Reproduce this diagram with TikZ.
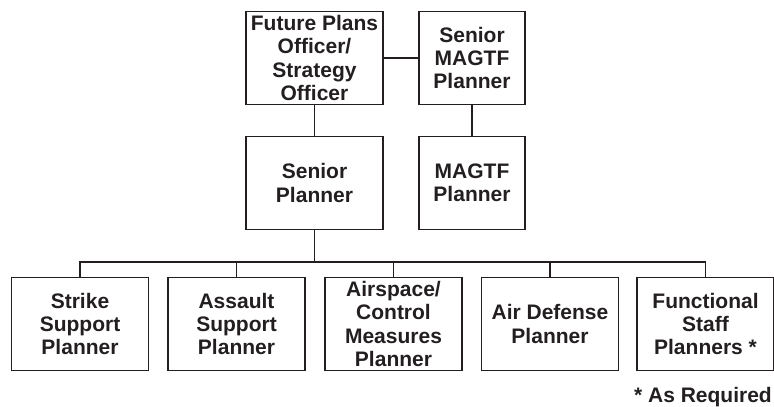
\documentclass[tikz,border=0pt]{standalone}
\usepackage{fontspec}
\setmainfont{Liberation Sans}
\begin{document}
\begin{tikzpicture}[x=1pt,y=-1pt,
  every node/.style={font=\fontsize{21}{23.2}\selectfont\bfseries, text=ink, inner sep=0pt},
  box/.style={draw=ink, line width=1.9pt, align=center, minimum width=137pt, minimum height=93pt},
  nbox/.style={box, minimum width=106pt},
  link/.style={draw=ink, line width=1.8pt}]
\definecolor{ink}{HTML}{231F20}
\useasboundingbox (0,0) rectangle (774,407);
\node[box]  (fp)  at (314.5,58)  {Future Plans\\Officer/\\Strategy\\Officer};
\node[nbox] (smp) at (472,58)    {Senior\\MAGTF\\Planner};
\node[box]  (sp)  at (314.5,183) {Senior\\Planner};
\node[nbox] (mp)  at (472,183)   {MAGTF\\Planner};
\node[box]  (b1)  at (80,324)    {Strike\\Support\\Planner};
\node[box]  (b2)  at (236.5,324) {Assault\\Support\\Planner};
\node[box]  (b3)  at (393.5,324) {Airspace/\\Control\\Measures\\Planner};
\node[box]  (b4)  at (550,324)   {Air Defense\\Planner};
\node[box]  (b5)  at (705.5,324) {Functional\\Staff\\Planners *};
\node[anchor=base east] (note) at (772,402) {* As Required};
\coordinate (bar) at (314.5,262);
\draw[link] (fp.east) -- (smp.west);
\draw[link] (fp.south) -- (sp.north);
\draw[link] (smp.south) -- (mp.north);
\draw[link] (sp.south) -- (bar);
\draw[link] (b1.north) |- (bar) -| (b5.north);
\draw[link] (b2.north) -- (b2.north |- bar);
\draw[link] (b3.north) -- (b3.north |- bar);
\draw[link] (b4.north) -- (b4.north |- bar);
\end{tikzpicture}
\end{document}
